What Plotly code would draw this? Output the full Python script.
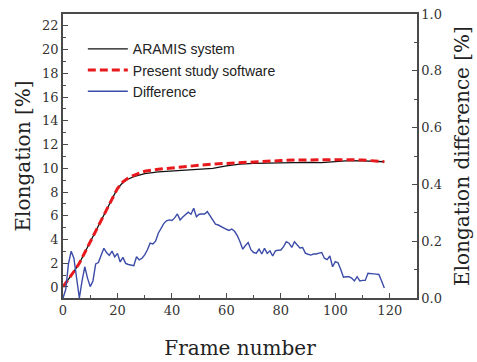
import plotly.graph_objects as go

# ---- data ----
frames_main = [0, 2, 4, 6, 8, 10, 12, 14, 16, 18, 20, 22, 24, 26, 28, 30, 35, 40, 45, 50,
               55, 60, 65, 70, 75, 80, 85, 90, 95, 100, 105, 110, 115, 118]
aramis = [0.0, 0.6, 1.3, 2.0, 2.9, 3.8, 4.7, 5.6, 6.6, 7.5, 8.3, 8.8, 9.1, 9.3, 9.45, 9.55,
          9.7, 9.78, 9.85, 9.92, 10.0, 10.2, 10.35, 10.42, 10.45, 10.5, 10.52, 10.5, 10.48,
          10.58, 10.65, 10.62, 10.6, 10.55]
present = [0.0, 0.6, 1.3, 2.0, 2.9, 3.8, 4.7, 5.6, 6.6, 7.5, 8.3, 8.85, 9.2, 9.4, 9.6, 9.75,
           9.92, 10.05, 10.15, 10.25, 10.35, 10.42, 10.5, 10.55, 10.6, 10.65, 10.7, 10.72,
           10.68, 10.7, 10.72, 10.7, 10.62, 10.55]

frames_diff = list(range(0, 119))
difference = [0.0, 0.03, 0.12, 0.165, 0.14, 0.06, 0.0, 0.06, 0.11, 0.07, 0.04, 0.06, 0.12,
              0.125, 0.15, 0.175, 0.16, 0.15, 0.165, 0.145, 0.157, 0.127, 0.143, 0.122, 0.118,
              0.116, 0.114, 0.145, 0.134, 0.14, 0.152, 0.17, 0.193, 0.19, 0.2, 0.228, 0.245,
              0.262, 0.272, 0.275, 0.273, 0.282, 0.296, 0.275, 0.285, 0.293, 0.302, 0.295,
              0.316, 0.286, 0.295, 0.296, 0.296, 0.304, 0.29, 0.275, 0.26, 0.257, 0.252, 0.245,
              0.242, 0.238, 0.243, 0.235, 0.22, 0.198, 0.172, 0.185, 0.195, 0.17, 0.16, 0.158,
              0.172, 0.155, 0.175, 0.157, 0.166, 0.148, 0.166, 0.168, 0.169, 0.181, 0.198,
              0.193, 0.178, 0.198, 0.185, 0.176, 0.178, 0.158, 0.154, 0.151, 0.155, 0.155,
              0.158, 0.16, 0.14, 0.135, 0.148, 0.11, 0.128, 0.124, 0.1, 0.073, 0.075, 0.075,
              0.07, 0.06, 0.075, 0.06, 0.062, 0.062, 0.087, 0.085, 0.085, 0.084, 0.083, 0.06,
              0.035]

x_ticks = [0, 20, 40, 60, 80, 100, 120]
y_ticks = [0, 2, 4, 6, 8, 10, 12, 14, 16, 18, 20, 22]
y2_ticks = [0.0, 0.2, 0.4, 0.6, 0.8, 1.0]

SERIF = "DejaVu Serif"
SANS = "Liberation Sans"
AX = "#4a4a4a"

fig = go.Figure()
fig.add_trace(go.Scatter(x=frames_main, y=aramis, mode="lines", name="ARAMIS system",
                         line=dict(color="#111111", width=1.3)))
fig.add_trace(go.Scatter(x=frames_main, y=present, mode="lines", name="Present study software",
                         line=dict(color="#e8191c", width=3, dash="8px,4px")))
fig.add_trace(go.Scatter(x=frames_diff, y=difference, mode="lines", name="Difference",
                         yaxis="y2", line=dict(color="#3b4ba8", width=1.4)))

axis_common = dict(showgrid=False, zeroline=False, showline=True, linecolor=AX, linewidth=1.5,
                   ticks="inside", ticklen=5, tickcolor=AX, tickwidth=1.2, automargin=False,
                   tickfont=dict(family=SERIF, size=13, color="#333333"))

fig.update_layout(
    width=477, height=362,
    margin=dict(l=63, r=60, t=14, b=64),
    paper_bgcolor="white", plot_bgcolor="white",
    showlegend=True,
    legend=dict(x=0.056, y=0.932, xanchor="left", yanchor="top",
                bgcolor="rgba(0,0,0,0)", borderwidth=0,
                font=dict(family=SANS, size=14, color="#222222"), itemwidth=40),
    xaxis=dict(range=[0, 130], tickvals=x_ticks, mirror=True,
               minor=dict(dtick=10, ticks="inside", ticklen=3, tickcolor=AX),
               title=dict(text="Frame number", font=dict(family=SERIF, size=20, color="#222222"),
                          standoff=24),
               **axis_common),
    yaxis=dict(range=[-0.93, 23.0], tickvals=y_ticks,
               minor=dict(dtick=1, ticks="inside", ticklen=3, tickcolor=AX),
               title=dict(text="Elongation [%]", font=dict(family=SERIF, size=20, color="#222222"),
                          standoff=6),
               **axis_common),
    yaxis2=dict(range=[0, 1.0], tickvals=y2_ticks, tickformat=".1f", overlaying="y", side="right",
                minor=dict(dtick=0.1, ticks="inside", ticklen=3, tickcolor=AX),
                title=dict(text="Elongation difference [%]",
                           font=dict(family=SERIF, size=20, color="#222222"), standoff=14),
                **axis_common),
)

fig.write_html("out.html")
